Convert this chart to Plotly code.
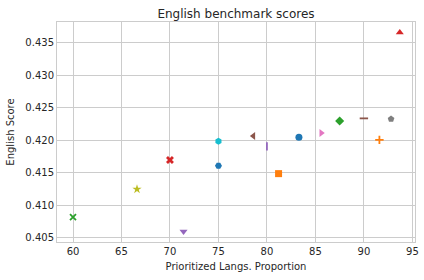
import plotly.graph_objects as go

# Data (prioritized langs proportion, English score)
proportion = [83.3, 81.2, 87.5, 93.7, 71.4, 78.6, 85.6, 92.8, 66.6, 75.0,
              75.0, 91.6, 60.0, 70.0, 80.0, 90.0]
english_score = [0.4205, 0.4149, 0.4230, 0.4366, 0.4060, 0.4207, 0.42115, 0.4233, 0.4125, 0.4199,
                 0.4161, 0.4201, 0.4082, 0.4170, 0.4191, 0.4234]
colors = ["#1f77b4", "#ff7f0e", "#2ca02c", "#d62728", "#9467bd", "#8c564b", "#e377c2",
          "#7f7f7f", "#bcbd22", "#17becf", "#1f77b4", "#ff7f0e", "#2ca02c", "#d62728",
          "#9467bd", "#8c564b"]
symbols = ["circle", "square", "diamond", "triangle-up", "triangle-down", "triangle-left",
           "triangle-right", "pentagon", "star", "hexagon", "hexagon2", "cross-thin",
           "x-thin", "x", "line-ns", "line-ew"]
sizes = [7, 7, 7, 7, 7, 7, 7, 7, 7, 7, 7, 6, 6, 7, 6, 6]

fig = go.Figure()
for x, y, c, s, sz in zip(proportion, english_score, colors, symbols, sizes):
    thin = s in ("cross-thin", "x-thin", "line-ns", "line-ew")
    fig.add_trace(go.Scatter(
        x=[x], y=[y], mode="markers", showlegend=False,
        marker=dict(symbol=s, color=c, size=sz,
                    line=dict(color=c, width=1.8 if thin else 0)),
    ))

font_color = "#262626"
fig.update_layout(
    width=424, height=280,
    margin=dict(l=57, r=9, t=22, b=38),
    paper_bgcolor="white", plot_bgcolor="white",
    font=dict(family="DejaVu Sans", color=font_color, size=10),
    title=dict(text="English benchmark scores", x=0.5, xref="paper", xanchor="center",
               y=1, yref="paper", yanchor="bottom", pad=dict(b=4),
               font=dict(size=12, color=font_color)),
    xaxis=dict(range=[58.35, 95.27], tickmode="linear", tick0=60, dtick=5,
               automargin=False,
               showgrid=True, gridcolor="#cccccc", gridwidth=1,
               showline=True, linecolor="#cccccc", linewidth=1, mirror=True,
               zeroline=False, ticks="", tickfont=dict(size=10, color=font_color),
               title=dict(text="Prioritized Langs. Proportion", standoff=6,
                          font=dict(size=10, color=font_color))),
    yaxis=dict(range=[0.40438, 0.43823], tickmode="linear", tick0=0.405, dtick=0.005,
               tickformat=".3f", automargin=False,
               showgrid=True, gridcolor="#cccccc", gridwidth=1,
               showline=True, linecolor="#cccccc", linewidth=1, mirror=True,
               zeroline=False, ticks="", tickfont=dict(size=10, color=font_color),
               title=dict(text="English Score", standoff=8,
                          font=dict(size=10, color=font_color))),
)

fig.write_html("out.html", config={"displayModeBar": False},
               post_script="document.body.style.margin='0';")
